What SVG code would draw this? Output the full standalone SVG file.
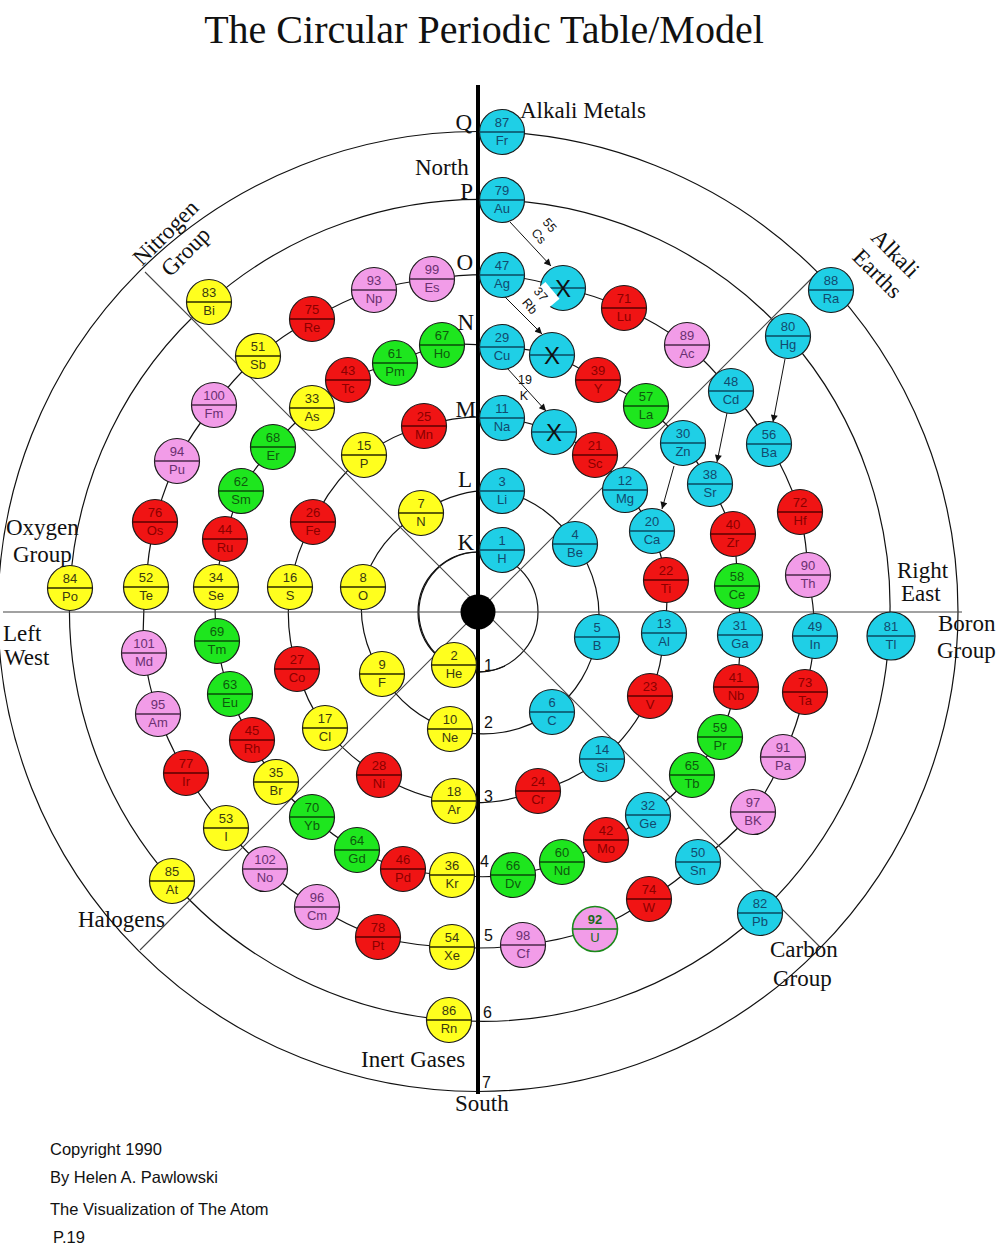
<svg xmlns="http://www.w3.org/2000/svg" width="1002" height="1248" viewBox="0 0 1002 1248">
<defs>
<marker id="ah" viewBox="0 0 10 10" refX="10" refY="5" markerWidth="8" markerHeight="7" markerUnits="userSpaceOnUse" orient="auto">
<path d="M0,0 L10,5 L0,10 z" fill="#111"/>
</marker>
</defs>
<style>
.lbl{font-family:"Liberation Serif","Times New Roman",serif;font-size:23px;fill:#111}
.ttl{font-family:"Liberation Serif","Times New Roman",serif;font-size:40px;fill:#111}
.num{font-family:"Liberation Sans",Arial,sans-serif;font-size:16px;fill:#111}
.cp{font-family:"Liberation Sans",Arial,sans-serif;font-size:16.5px;fill:#111}
.al{font-family:"Liberation Sans",Arial,sans-serif;font-size:12.5px;fill:#111;text-anchor:middle}
.shell{fill:none;stroke:#111;stroke-width:1.2}
.arr{stroke:#111;stroke-width:1;marker-end:url(#ah)}
.ax{stroke:#444;stroke-width:1.1}
.el text{font-family:"Liberation Sans",Arial,sans-serif;font-size:13px;text-anchor:middle}
.el circle{stroke:#1a1a1a;stroke-width:1.2}
.el line{stroke-width:1.6}
.cy circle{fill:#1fcfe6}.cy line{stroke:#0b4a60}.cy text{fill:#124a6e}
.rd circle{fill:#f01414}.rd line{stroke:#5a0000}.rd text{fill:#8a0000}
.ye circle{fill:#ffff1e}.ye line{stroke:#2a2a00}.ye text{fill:#3a3a10}
.gr circle{fill:#1ee61e}.gr line{stroke:#0a4a0a}.gr text{fill:#0d5a0d}
.pk circle{fill:#f29ce8}.pk line{stroke:#4a2a4a}.pk text{fill:#6a3070}
.u circle{stroke:#1a8a1a;stroke-width:1.6}.u line{stroke:#1a7a1a}.u text{fill:#1a6a1a}
.el text.x{font-size:24px;fill:#111}
</style>
<rect width="1002" height="1248" fill="#fff"/>

<g id="connectors">
<circle class="shell" cx="478" cy="611.5" r="480"/>
<path class="shell" d="M502,200 A410,410 0 0 1 788,336 A410,410 0 0 1 889,636 A410,410 0 0 1 760,913 A410,410 0 0 1 449,1020 A410,410 0 0 1 172,881 A410,410 0 0 1 70,588 A410,410 0 0 1 209,302 A410,410 0 0 1 502,200"/>
<path class="shell" d="M502,275 A336,336 0 0 1 563,288 A336,336 0 0 1 624,308 A336,336 0 0 1 687,345 A336,336 0 0 1 731,391 A336,336 0 0 1 769,444 A336,336 0 0 1 800,512 A336,336 0 0 1 808,575 A336,336 0 0 1 815,636 A336,336 0 0 1 805,692 A336,336 0 0 1 783,757 A336,336 0 0 1 753,812 A336,336 0 0 1 698,862 A336,336 0 0 1 649,899 A336,336 0 0 1 595,929 A336,336 0 0 1 523,945 A336,336 0 0 1 452,947 A336,336 0 0 1 378,937 A336,336 0 0 1 317,907 A336,336 0 0 1 265,869 A336,336 0 0 1 226,828 A336,336 0 0 1 186,773 A336,336 0 0 1 158,714 A336,336 0 0 1 144,653 A336,336 0 0 1 146,587 A336,336 0 0 1 155,522 A336,336 0 0 1 177,461 A336,336 0 0 1 214,405 A336,336 0 0 1 258,356 A336,336 0 0 1 312,319 A336,336 0 0 1 374,290 A336,336 0 0 1 432,279 A336,336 0 0 1 502,275"/>
<path class="shell" d="M502,347 A264,264 0 0 1 552,355 A264,264 0 0 1 598,380 A264,264 0 0 1 646,406 A264,264 0 0 1 683,443 A264,264 0 0 1 710,484 A264,264 0 0 1 733,534 A264,264 0 0 1 737,586 A264,264 0 0 1 740,635 A264,264 0 0 1 736,687 A264,264 0 0 1 720,737 A264,264 0 0 1 692,775 A264,264 0 0 1 648,815 A264,264 0 0 1 606,840 A264,264 0 0 1 562,862 A264,264 0 0 1 513,875 A264,264 0 0 1 452,875 A264,264 0 0 1 403,869 A264,264 0 0 1 357,850 A264,264 0 0 1 312,817 A264,264 0 0 1 276,782 A264,264 0 0 1 252,740 A264,264 0 0 1 230,694 A264,264 0 0 1 217,641 A264,264 0 0 1 216,587 A264,264 0 0 1 225,539 A264,264 0 0 1 241,491 A264,264 0 0 1 273,447 A264,264 0 0 1 312,408 A264,264 0 0 1 348,380 A264,264 0 0 1 395,363 A264,264 0 0 1 442,345 A264,264 0 0 1 502,347"/>
<path class="shell" d="M502,418 A191,191 0 0 1 554,432 A191,191 0 0 1 595,455 A191,191 0 0 1 625,490 A191,191 0 0 1 652,531 A191,191 0 0 1 666,580 A191,191 0 0 1 664,633 A191,191 0 0 1 650,696 A191,191 0 0 1 602,759 A191,191 0 0 1 538,791 A191,191 0 0 1 454,802 A191,191 0 0 1 379,775 A191,191 0 0 1 325,728 A191,191 0 0 1 297,669 A191,191 0 0 1 290,587 A191,191 0 0 1 313,522 A191,191 0 0 1 364,455 A191,191 0 0 1 424,426 A191,191 0 0 1 502,418"/>
<path class="shell" d="M502,491 A118,118 0 0 1 575,544 A118,118 0 0 1 597,637 A118,118 0 0 1 552,712 A118,118 0 0 1 450,729 A118,118 0 0 1 382,674 A118,118 0 0 1 363,587 A118,118 0 0 1 421,513 A118,118 0 0 1 502,491"/>
<circle class="shell" cx="478" cy="612" r="60" stroke-width="1.3"/>
<path class="shell" d="M478,552 A60,60 0 1 0 505,666" stroke-width="2.4"/>
<line class="arr" x1="510" y1="222" x2="551" y2="266"/>
<line class="arr" x1="505" y1="297" x2="542" y2="334"/>
<line class="arr" x1="507" y1="368" x2="546" y2="411"/>
<line class="arr" x1="785" y1="359" x2="773" y2="422"/>
<line class="arr" x1="727" y1="413" x2="717" y2="462"/>
<line class="arr" x1="674" y1="466" x2="662" y2="509"/>
</g>

<g id="axes">
<line class="ax" x1="3" y1="612" x2="962" y2="612" stroke="#333" stroke-width="1.3"/>
<line class="ax" x1="145" y1="272" x2="820" y2="947"/>
<line class="ax" x1="140" y1="950" x2="817" y2="273"/>
<line x1="478" y1="85" x2="478" y2="1094" stroke="#000" stroke-width="4"/>
<circle id="nucleus" cx="478" cy="612" r="17.5" fill="#000"/>
</g>

<g id="nodes">
<g id="el-87" class="el cy" transform="translate(502,132)"><circle r="22.5"/><line x1="-22.5" x2="22.5"/><text y="-5">87</text><text y="13">Fr</text></g>
<g id="el-79" class="el cy" transform="translate(502,200)"><circle r="22.5"/><line x1="-22.5" x2="22.5"/><text y="-5">79</text><text y="13">Au</text></g>
<g id="el-47" class="el cy" transform="translate(502,275)"><circle r="22.5"/><line x1="-22.5" x2="22.5"/><text y="-5">47</text><text y="13">Ag</text></g>
<g id="el-29" class="el cy" transform="translate(502,347)"><circle r="22.5"/><line x1="-22.5" x2="22.5"/><text y="-5">29</text><text y="13">Cu</text></g>
<g id="el-11" class="el cy" transform="translate(502,418)"><circle r="22.5"/><line x1="-22.5" x2="22.5"/><text y="-5">11</text><text y="13">Na</text></g>
<g id="el-3" class="el cy" transform="translate(502,491)"><circle r="22.5"/><line x1="-22.5" x2="22.5"/><text y="-5">3</text><text y="13">Li</text></g>
<g id="el-1" class="el cy" transform="translate(502,550)"><circle r="22.5"/><line x1="-22.5" x2="22.5"/><text y="-5">1</text><text y="13">H</text></g>
<g id="el-2" class="el ye" transform="translate(454,665)"><circle r="22.5"/><line x1="-22.5" x2="22.5"/><text y="-5">2</text><text y="13">He</text></g>
<g id="el-10" class="el ye" transform="translate(450,729)"><circle r="22.5"/><line x1="-22.5" x2="22.5"/><text y="-5">10</text><text y="13">Ne</text></g>
<g id="el-18" class="el ye" transform="translate(454,801)"><circle r="22.5"/><line x1="-22.5" x2="22.5"/><text y="-5">18</text><text y="13">Ar</text></g>
<g id="el-36" class="el ye" transform="translate(452,875)"><circle r="22.5"/><line x1="-22.5" x2="22.5"/><text y="-5">36</text><text y="13">Kr</text></g>
<g id="el-54" class="el ye" transform="translate(452,947)"><circle r="22.5"/><line x1="-22.5" x2="22.5"/><text y="-5">54</text><text y="13">Xe</text></g>
<g id="el-86" class="el ye" transform="translate(449,1020)"><circle r="22.5"/><line x1="-22.5" x2="22.5"/><text y="-5">86</text><text y="13">Rn</text></g>

<g id="el-88" class="el cy" transform="translate(831,290)"><circle r="22.5"/><line x1="-22.5" x2="22.5"/><text y="-5">88</text><text y="13">Ra</text></g>
<g id="el-80" class="el cy" transform="translate(788,336)"><circle r="22.5"/><line x1="-22.5" x2="22.5"/><text y="-5">80</text><text y="13">Hg</text></g>
<g id="el-81" class="el cy" transform="translate(891,636)"><circle r="24"/><line x1="-24" x2="24"/><text y="-5">81</text><text y="13">Tl</text></g>
<g id="el-82" class="el cy" transform="translate(760,913)"><circle r="22.5"/><line x1="-22.5" x2="22.5"/><text y="-5">82</text><text y="13">Pb</text></g>
<g id="el-85" class="el ye" transform="translate(172,881)"><circle r="22.5"/><line x1="-22.5" x2="22.5"/><text y="-5">85</text><text y="13">At</text></g>
<g id="el-84" class="el ye" transform="translate(70,588)"><circle r="22.5"/><line x1="-22.5" x2="22.5"/><text y="-5">84</text><text y="13">Po</text></g>
<g id="el-83" class="el ye" transform="translate(209,302)"><circle r="22.5"/><line x1="-22.5" x2="22.5"/><text y="-5">83</text><text y="13">Bi</text></g>

<g id="x-55" class="el cy" transform="translate(563,288)"><circle r="22.5"/><line x1="-22.5" x2="22.5"/><text class="x" y="8.5">X</text></g>
<g id="el-71" class="el rd" transform="translate(624,308)"><circle r="22.5"/><line x1="-22.5" x2="22.5"/><text y="-5">71</text><text y="13">Lu</text></g>
<g id="el-89" class="el pk" transform="translate(687,345)"><circle r="22.5"/><line x1="-22.5" x2="22.5"/><text y="-5">89</text><text y="13">Ac</text></g>
<g id="el-48" class="el cy" transform="translate(731,391)"><circle r="22.5"/><line x1="-22.5" x2="22.5"/><text y="-5">48</text><text y="13">Cd</text></g>
<g id="el-56" class="el cy" transform="translate(769,444)"><circle r="22.5"/><line x1="-22.5" x2="22.5"/><text y="-5">56</text><text y="13">Ba</text></g>
<g id="el-72" class="el rd" transform="translate(800,512)"><circle r="22.5"/><line x1="-22.5" x2="22.5"/><text y="-5">72</text><text y="13">Hf</text></g>
<g id="el-90" class="el pk" transform="translate(808,575)"><circle r="22.5"/><line x1="-22.5" x2="22.5"/><text y="-5">90</text><text y="13">Th</text></g>
<g id="el-49" class="el cy" transform="translate(815,636)"><circle r="22.5"/><line x1="-22.5" x2="22.5"/><text y="-5">49</text><text y="13">In</text></g>
<g id="el-73" class="el rd" transform="translate(805,692)"><circle r="22.5"/><line x1="-22.5" x2="22.5"/><text y="-5">73</text><text y="13">Ta</text></g>
<g id="el-91" class="el pk" transform="translate(783,757)"><circle r="22.5"/><line x1="-22.5" x2="22.5"/><text y="-5">91</text><text y="13">Pa</text></g>
<g id="el-97" class="el pk" transform="translate(753,812)"><circle r="22.5"/><line x1="-22.5" x2="22.5"/><text y="-5">97</text><text y="13">BK</text></g>
<g id="el-50" class="el cy" transform="translate(698,862)"><circle r="22.5"/><line x1="-22.5" x2="22.5"/><text y="-5">50</text><text y="13">Sn</text></g>
<g id="el-74" class="el rd" transform="translate(649,899)"><circle r="22.5"/><line x1="-22.5" x2="22.5"/><text y="-5">74</text><text y="13">W</text></g>
<g id="el-92" class="el pk u" transform="translate(595,929)"><circle r="22.5"/><line x1="-22.5" x2="22.5"/><text y="-5" font-weight="bold">92</text><text y="13">U</text></g>
<g id="el-98" class="el pk" transform="translate(523,945)"><circle r="22.5"/><line x1="-22.5" x2="22.5"/><text y="-5">98</text><text y="13">Cf</text></g>
<g id="el-78" class="el rd" transform="translate(378,937)"><circle r="22.5"/><line x1="-22.5" x2="22.5"/><text y="-5">78</text><text y="13">Pt</text></g>
<g id="el-96" class="el pk" transform="translate(317,907)"><circle r="22.5"/><line x1="-22.5" x2="22.5"/><text y="-5">96</text><text y="13">Cm</text></g>
<g id="el-102" class="el pk" transform="translate(265,869)"><circle r="22.5"/><line x1="-22.5" x2="22.5"/><text y="-5">102</text><text y="13">No</text></g>
<g id="el-53" class="el ye" transform="translate(226,828)"><circle r="22.5"/><line x1="-22.5" x2="22.5"/><text y="-5">53</text><text y="13">I</text></g>
<g id="el-77" class="el rd" transform="translate(186,773)"><circle r="22.5"/><line x1="-22.5" x2="22.5"/><text y="-5">77</text><text y="13">Ir</text></g>
<g id="el-95" class="el pk" transform="translate(158,714)"><circle r="22.5"/><line x1="-22.5" x2="22.5"/><text y="-5">95</text><text y="13">Am</text></g>
<g id="el-101" class="el pk" transform="translate(144,653)"><circle r="22.5"/><line x1="-22.5" x2="22.5"/><text y="-5">101</text><text y="13">Md</text></g>
<g id="el-52" class="el ye" transform="translate(146,587)"><circle r="22.5"/><line x1="-22.5" x2="22.5"/><text y="-5">52</text><text y="13">Te</text></g>
<g id="el-76" class="el rd" transform="translate(155,522)"><circle r="22.5"/><line x1="-22.5" x2="22.5"/><text y="-5">76</text><text y="13">Os</text></g>
<g id="el-94" class="el pk" transform="translate(177,461)"><circle r="22.5"/><line x1="-22.5" x2="22.5"/><text y="-5">94</text><text y="13">Pu</text></g>
<g id="el-100" class="el pk" transform="translate(214,405)"><circle r="22.5"/><line x1="-22.5" x2="22.5"/><text y="-5">100</text><text y="13">Fm</text></g>
<g id="el-51" class="el ye" transform="translate(258,356)"><circle r="22.5"/><line x1="-22.5" x2="22.5"/><text y="-5">51</text><text y="13">Sb</text></g>
<g id="el-75" class="el rd" transform="translate(312,319)"><circle r="22.5"/><line x1="-22.5" x2="22.5"/><text y="-5">75</text><text y="13">Re</text></g>
<g id="el-93" class="el pk" transform="translate(374,290)"><circle r="22.5"/><line x1="-22.5" x2="22.5"/><text y="-5">93</text><text y="13">Np</text></g>
<g id="el-99" class="el pk" transform="translate(432,279)"><circle r="22.5"/><line x1="-22.5" x2="22.5"/><text y="-5">99</text><text y="13">Es</text></g>

<g id="x-37" class="el cy" transform="translate(552,355)"><circle r="22.5"/><line x1="-22.5" x2="22.5"/><text class="x" y="8.5">X</text></g>
<g id="el-39" class="el rd" transform="translate(598,380)"><circle r="22.5"/><line x1="-22.5" x2="22.5"/><text y="-5">39</text><text y="13">Y</text></g>
<g id="el-57" class="el gr" transform="translate(646,406)"><circle r="22.5"/><line x1="-22.5" x2="22.5"/><text y="-5">57</text><text y="13">La</text></g>
<g id="el-30" class="el cy" transform="translate(683,443)"><circle r="22.5"/><line x1="-22.5" x2="22.5"/><text y="-5">30</text><text y="13">Zn</text></g>
<g id="el-38" class="el cy" transform="translate(710,484)"><circle r="22.5"/><line x1="-22.5" x2="22.5"/><text y="-5">38</text><text y="13">Sr</text></g>
<g id="el-40" class="el rd" transform="translate(733,534)"><circle r="22.5"/><line x1="-22.5" x2="22.5"/><text y="-5">40</text><text y="13">Zr</text></g>
<g id="el-58" class="el gr" transform="translate(737,586)"><circle r="22.5"/><line x1="-22.5" x2="22.5"/><text y="-5">58</text><text y="13">Ce</text></g>
<g id="el-31" class="el cy" transform="translate(740,635)"><circle r="22.5"/><line x1="-22.5" x2="22.5"/><text y="-5">31</text><text y="13">Ga</text></g>
<g id="el-41" class="el rd" transform="translate(736,687)"><circle r="22.5"/><line x1="-22.5" x2="22.5"/><text y="-5">41</text><text y="13">Nb</text></g>
<g id="el-59" class="el gr" transform="translate(720,737)"><circle r="22.5"/><line x1="-22.5" x2="22.5"/><text y="-5">59</text><text y="13">Pr</text></g>
<g id="el-65" class="el gr" transform="translate(692,775)"><circle r="22.5"/><line x1="-22.5" x2="22.5"/><text y="-5">65</text><text y="13">Tb</text></g>
<g id="el-32" class="el cy" transform="translate(648,815)"><circle r="22.5"/><line x1="-22.5" x2="22.5"/><text y="-5">32</text><text y="13">Ge</text></g>
<g id="el-42" class="el rd" transform="translate(606,840)"><circle r="22.5"/><line x1="-22.5" x2="22.5"/><text y="-5">42</text><text y="13">Mo</text></g>
<g id="el-60" class="el gr" transform="translate(562,862)"><circle r="22.5"/><line x1="-22.5" x2="22.5"/><text y="-5">60</text><text y="13">Nd</text></g>
<g id="el-66" class="el gr" transform="translate(513,875)"><circle r="22.5"/><line x1="-22.5" x2="22.5"/><text y="-5">66</text><text y="13">Dv</text></g>
<g id="el-46" class="el rd" transform="translate(403,869)"><circle r="22.5"/><line x1="-22.5" x2="22.5"/><text y="-5">46</text><text y="13">Pd</text></g>
<g id="el-64" class="el gr" transform="translate(357,850)"><circle r="22.5"/><line x1="-22.5" x2="22.5"/><text y="-5">64</text><text y="13">Gd</text></g>
<g id="el-70" class="el gr" transform="translate(312,817)"><circle r="22.5"/><line x1="-22.5" x2="22.5"/><text y="-5">70</text><text y="13">Yb</text></g>
<g id="el-35" class="el ye" transform="translate(276,782)"><circle r="22.5"/><line x1="-22.5" x2="22.5"/><text y="-5">35</text><text y="13">Br</text></g>
<g id="el-45" class="el rd" transform="translate(252,740)"><circle r="22.5"/><line x1="-22.5" x2="22.5"/><text y="-5">45</text><text y="13">Rh</text></g>
<g id="el-63" class="el gr" transform="translate(230,694)"><circle r="22.5"/><line x1="-22.5" x2="22.5"/><text y="-5">63</text><text y="13">Eu</text></g>
<g id="el-69" class="el gr" transform="translate(217,641)"><circle r="22.5"/><line x1="-22.5" x2="22.5"/><text y="-5">69</text><text y="13">Tm</text></g>
<g id="el-34" class="el ye" transform="translate(216,587)"><circle r="22.5"/><line x1="-22.5" x2="22.5"/><text y="-5">34</text><text y="13">Se</text></g>
<g id="el-44" class="el rd" transform="translate(225,539)"><circle r="22.5"/><line x1="-22.5" x2="22.5"/><text y="-5">44</text><text y="13">Ru</text></g>
<g id="el-62" class="el gr" transform="translate(241,491)"><circle r="22.5"/><line x1="-22.5" x2="22.5"/><text y="-5">62</text><text y="13">Sm</text></g>
<g id="el-68" class="el gr" transform="translate(273,447)"><circle r="22.5"/><line x1="-22.5" x2="22.5"/><text y="-5">68</text><text y="13">Er</text></g>
<g id="el-33" class="el ye" transform="translate(312,408)"><circle r="22.5"/><line x1="-22.5" x2="22.5"/><text y="-5">33</text><text y="13">As</text></g>
<g id="el-43" class="el rd" transform="translate(348,380)"><circle r="22.5"/><line x1="-22.5" x2="22.5"/><text y="-5">43</text><text y="13">Tc</text></g>
<g id="el-61" class="el gr" transform="translate(395,363)"><circle r="22.5"/><line x1="-22.5" x2="22.5"/><text y="-5">61</text><text y="13">Pm</text></g>
<g id="el-67" class="el gr" transform="translate(442,345)"><circle r="22.5"/><line x1="-22.5" x2="22.5"/><text y="-5">67</text><text y="13">Ho</text></g>

<g id="x-19" class="el cy" transform="translate(554,432)"><circle r="22.5"/><line x1="-22.5" x2="22.5"/><text class="x" y="8.5">X</text></g>
<g id="el-21" class="el rd" transform="translate(595,455)"><circle r="22.5"/><line x1="-22.5" x2="22.5"/><text y="-5">21</text><text y="13">Sc</text></g>
<g id="el-12" class="el cy" transform="translate(625,490)"><circle r="22.5"/><line x1="-22.5" x2="22.5"/><text y="-5">12</text><text y="13">Mg</text></g>
<g id="el-20" class="el cy" transform="translate(652,531)"><circle r="22.5"/><line x1="-22.5" x2="22.5"/><text y="-5">20</text><text y="13">Ca</text></g>
<g id="el-22" class="el rd" transform="translate(666,580)"><circle r="22.5"/><line x1="-22.5" x2="22.5"/><text y="-5">22</text><text y="13">Ti</text></g>
<g id="el-13" class="el cy" transform="translate(664,633)"><circle r="22.5"/><line x1="-22.5" x2="22.5"/><text y="-5">13</text><text y="13">Al</text></g>
<g id="el-23" class="el rd" transform="translate(650,696)"><circle r="22.5"/><line x1="-22.5" x2="22.5"/><text y="-5">23</text><text y="13">V</text></g>
<g id="el-14" class="el cy" transform="translate(602,759)"><circle r="22.5"/><line x1="-22.5" x2="22.5"/><text y="-5">14</text><text y="13">Si</text></g>
<g id="el-24" class="el rd" transform="translate(538,791)"><circle r="22.5"/><line x1="-22.5" x2="22.5"/><text y="-5">24</text><text y="13">Cr</text></g>
<g id="el-28" class="el rd" transform="translate(379,775)"><circle r="22.5"/><line x1="-22.5" x2="22.5"/><text y="-5">28</text><text y="13">Ni</text></g>
<g id="el-17" class="el ye" transform="translate(325,728)"><circle r="22.5"/><line x1="-22.5" x2="22.5"/><text y="-5">17</text><text y="13">Cl</text></g>
<g id="el-27" class="el rd" transform="translate(297,669)"><circle r="22.5"/><line x1="-22.5" x2="22.5"/><text y="-5">27</text><text y="13">Co</text></g>
<g id="el-16" class="el ye" transform="translate(290,587)"><circle r="22.5"/><line x1="-22.5" x2="22.5"/><text y="-5">16</text><text y="13">S</text></g>
<g id="el-26" class="el rd" transform="translate(313,522)"><circle r="22.5"/><line x1="-22.5" x2="22.5"/><text y="-5">26</text><text y="13">Fe</text></g>
<g id="el-15" class="el ye" transform="translate(364,455)"><circle r="22.5"/><line x1="-22.5" x2="22.5"/><text y="-5">15</text><text y="13">P</text></g>
<g id="el-25" class="el rd" transform="translate(424,426)"><circle r="22.5"/><line x1="-22.5" x2="22.5"/><text y="-5">25</text><text y="13">Mn</text></g>

<g id="el-4" class="el cy" transform="translate(575,544)"><circle r="22.5"/><line x1="-22.5" x2="22.5"/><text y="-5">4</text><text y="13">Be</text></g>
<g id="el-5" class="el cy" transform="translate(597,637)"><circle r="22.5"/><line x1="-22.5" x2="22.5"/><text y="-5">5</text><text y="13">B</text></g>
<g id="el-6" class="el cy" transform="translate(552,712)"><circle r="22.5"/><line x1="-22.5" x2="22.5"/><text y="-5">6</text><text y="13">C</text></g>
<g id="el-9" class="el ye" transform="translate(382,674)"><circle r="22.5"/><line x1="-22.5" x2="22.5"/><text y="-5">9</text><text y="13">F</text></g>
<g id="el-8" class="el ye" transform="translate(363,587)"><circle r="22.5"/><line x1="-22.5" x2="22.5"/><text y="-5">8</text><text y="13">O</text></g>
<g id="el-7" class="el ye" transform="translate(421,513)"><circle r="22.5"/><line x1="-22.5" x2="22.5"/><text y="-5">7</text><text y="13">N</text></g>
</g>

<g id="arrow-labels">
<rect x="-11" y="-15" width="22" height="30" fill="#fff" transform="translate(541,300) rotate(50)"/>
<text class="al" transform="translate(550,225) rotate(50)" y="4.5">55</text>
<text class="al" transform="translate(539,236) rotate(50)" y="4.5">Cs</text>
<text class="al" transform="translate(541,294) rotate(50)" y="4.5">37</text>
<text class="al" transform="translate(530,306) rotate(50)" y="4.5">Rb</text>
<text class="al" x="525" y="384">19</text>
<text class="al" x="524" y="400">K</text>
</g>

<g id="labels">
<text class="ttl" x="484" y="43" text-anchor="middle">The Circular Periodic Table/Model</text>
<text class="lbl" x="520" y="118">Alkali Metals</text>
<text class="lbl" x="415" y="175">North</text>
<g text-anchor="end">
<text class="lbl" x="472" y="130">Q</text>
<text class="lbl" x="473" y="199">P</text>
<text class="lbl" x="473" y="270">O</text>
<text class="lbl" x="474" y="330">N</text>
<text class="lbl" x="476" y="417">M</text>
<text class="lbl" x="472" y="487">L</text>
<text class="lbl" x="474" y="550">K</text>
</g>
<text class="num" x="484" y="671">1</text>
<text class="num" x="484" y="728">2</text>
<text class="num" x="484" y="802">3</text>
<text class="num" x="480" y="867">4</text>
<text class="num" x="484" y="941">5</text>
<text class="num" x="483" y="1018">6</text>
<text class="num" x="482" y="1088">7</text>
<text class="lbl" x="455" y="1111">South</text>
<text class="lbl" x="361" y="1067">Inert Gases</text>
<text class="lbl" x="78" y="927">Halogens</text>
<text class="lbl" x="770" y="957">Carbon</text>
<text class="lbl" x="773" y="986">Group</text>
<text class="lbl" x="938" y="631">Boron</text>
<text class="lbl" x="937" y="658">Group</text>
<text class="lbl" x="897" y="578">Right</text>
<text class="lbl" x="901" y="601">East</text>
<text class="lbl" x="3" y="641">Left</text>
<text class="lbl" x="4" y="665">West</text>
<text class="lbl" x="6" y="535">Oxygen</text>
<text class="lbl" x="13" y="562">Group</text>
<text class="lbl" text-anchor="middle" transform="translate(166,233) rotate(-45)" y="7">Nitrogen</text>
<text class="lbl" text-anchor="middle" transform="translate(186,252) rotate(-45)" y="7">Group</text>
<text class="lbl" text-anchor="middle" transform="translate(895,254) rotate(45)" y="7">Alkali</text>
<text class="lbl" text-anchor="middle" transform="translate(877,274) rotate(45)" y="7">Earths</text>
<text class="cp" x="50" y="1155">Copyright 1990</text>
<text class="cp" x="50" y="1183">By Helen A. Pawlowski</text>
<text class="cp" x="50" y="1215">The Visualization of The Atom</text>
<text class="cp" x="53" y="1243">P.19</text>
</g>
</svg>
